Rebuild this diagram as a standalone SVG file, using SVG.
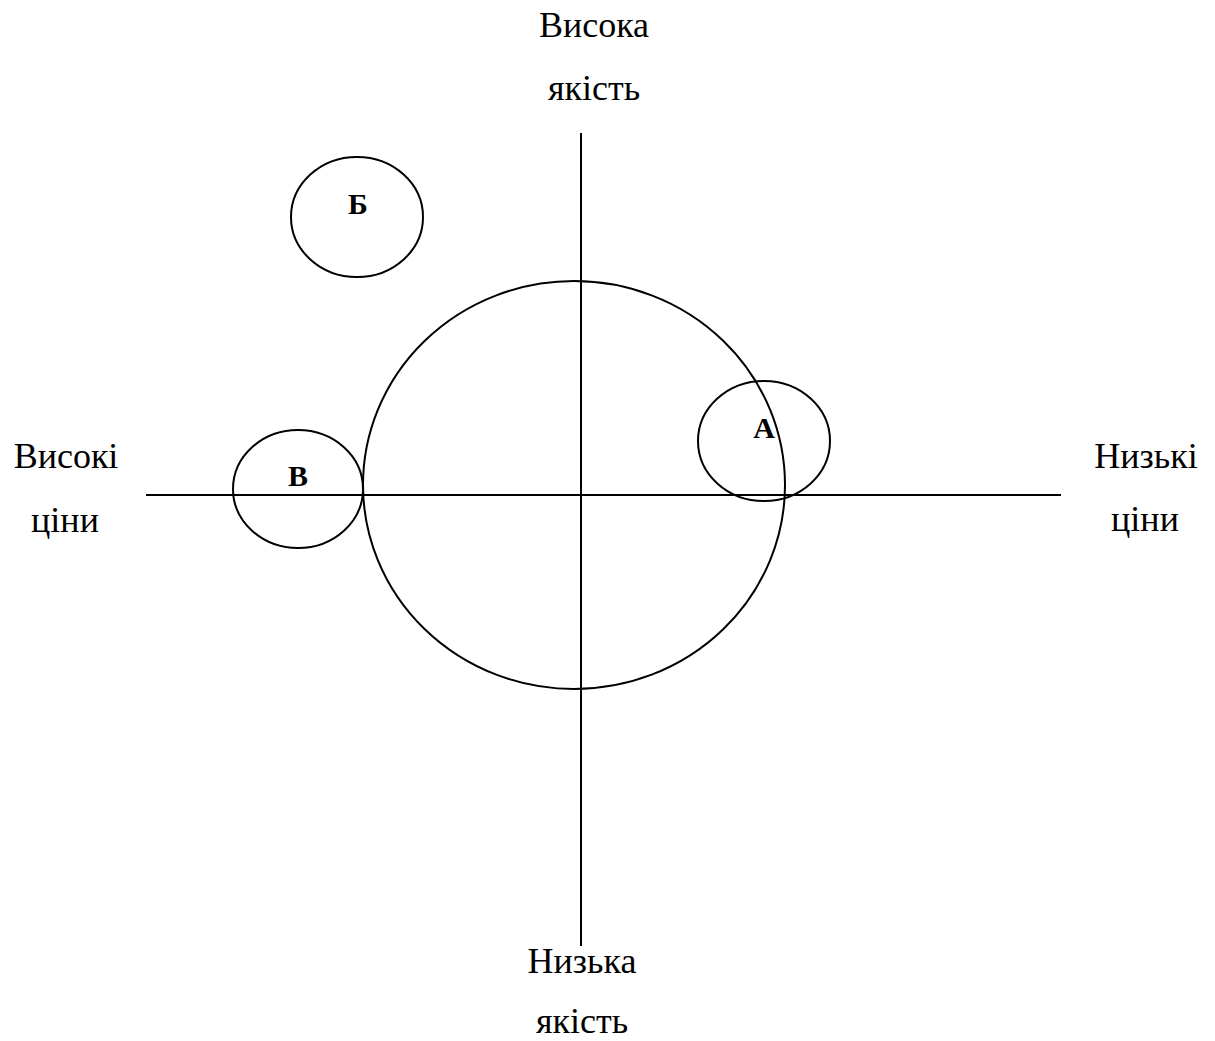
<svg xmlns="http://www.w3.org/2000/svg" width="1215" height="1041" viewBox="0 0 1215 1041">
  <style>
    .axis { stroke: #000; stroke-width: 2; fill: none; }
    .ring { stroke: #000; stroke-width: 2; fill: none; }
    .lbl { font-family: 'Liberation Serif', 'DejaVu Serif', serif; font-size: 36px; font-weight: normal; fill: #000; text-anchor: middle; }
    .tag { font-family: 'Liberation Serif', 'DejaVu Serif', serif; font-size: 30px; font-weight: bold; fill: #000; text-anchor: middle; }
  </style>
  <rect width="1215" height="1041" fill="#fff"/>

  <!-- axes -->
  <g id="connectors">
    <line class="axis" x1="581" y1="133" x2="581" y2="946"/>
    <line class="axis" x1="146" y1="495" x2="1061" y2="495"/>
  </g>

  <!-- axis captions -->
  <g id="top-label">
    <text class="lbl" x="594" y="37">Висока</text>
    <text class="lbl" x="594" y="100">якість</text>
  </g>
  <g id="bottom-label">
    <text class="lbl" x="582" y="973">Низька</text>
    <text class="lbl" x="582" y="1033">якість</text>
  </g>
  <g id="left-label">
    <text class="lbl" x="66" y="468">Високі</text>
    <text class="lbl" x="65" y="532">ціни</text>
  </g>
  <g id="right-label">
    <text class="lbl" x="1146" y="468">Низькі</text>
    <text class="lbl" x="1145" y="531">ціни</text>
  </g>

  <!-- market circles -->
  <g id="market">
    <ellipse class="ring" cx="574" cy="485" rx="211" ry="204"/>
  </g>
  <g id="node-b">
    <ellipse class="ring" cx="357" cy="217" rx="66" ry="60"/>
    <text class="tag" x="358" y="214">Б</text>
  </g>
  <g id="node-v">
    <ellipse class="ring" cx="298" cy="489" rx="65" ry="59"/>
    <text class="tag" x="298" y="486">В</text>
  </g>
  <g id="node-a">
    <ellipse class="ring" cx="764" cy="441" rx="66" ry="60"/>
    <text class="tag" x="764" y="438">А</text>
  </g>
</svg>
